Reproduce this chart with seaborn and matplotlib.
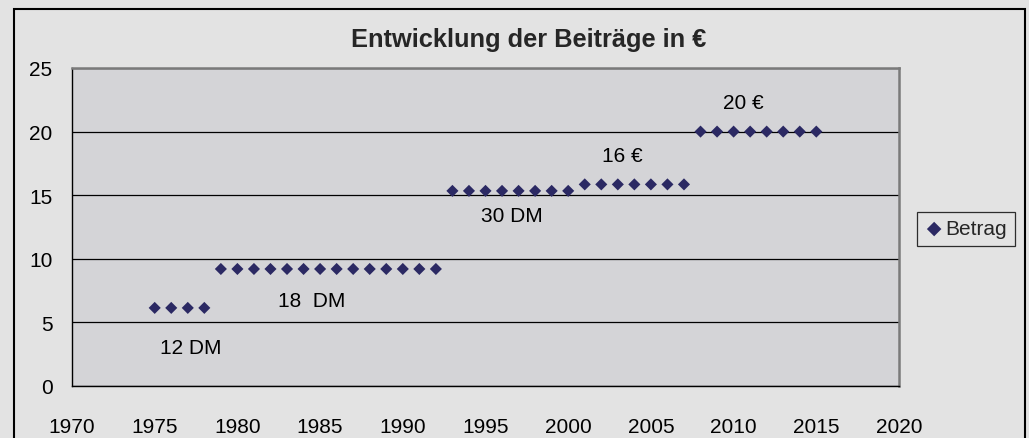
import matplotlib
matplotlib.use('Agg')
import matplotlib.pyplot as plt
import seaborn as sns
import pandas as pd
from matplotlib.patches import Rectangle

# Beitragsjahre und Beträge in Euro
years = [1975, 1976, 1977, 1978,
         1979, 1980, 1981, 1982, 1983, 1984, 1985, 1986, 1987, 1988, 1989, 1990, 1991, 1992,
         1993, 1994, 1995, 1996, 1997, 1998, 1999, 2000,
         2001, 2002, 2003, 2004, 2005, 2006, 2007,
         2008, 2009, 2010, 2011, 2012, 2013, 2014, 2015]
betrag = [6.14, 6.14, 6.14, 6.14,
          9.2, 9.2, 9.2, 9.2, 9.2, 9.2, 9.2, 9.2, 9.2, 9.2, 9.2, 9.2, 9.2, 9.2,
          15.34, 15.34, 15.34, 15.34, 15.34, 15.34, 15.34, 15.34,
          15.85, 15.85, 15.85, 15.85, 15.85, 15.85, 15.85,
          20, 20, 20, 20, 20, 20, 20, 20]

# Beschriftungen der Beitragsstufen
labels = ['12 DM', '18  DM', '30 DM', '16 €', '20 €']
label_x = [1977.15, 1984.5, 1996.6, 2003.3, 2010.6]
label_y = [3.0, 6.7, 13.4, 18.1, 22.25]

df = pd.DataFrame({'Jahr': years, 'Betrag': betrag})

sns.set_style('white')
plt.rcParams['font.family'] = ['Liberation Sans', 'DejaVu Sans']

fig = plt.figure(figsize=(10.29, 4.39), dpi=100, facecolor='#e3e3e3')
ax = fig.add_axes([72 / 1029, 52 / 439, 827 / 1029, 318 / 439])
ax.set_facecolor('#d4d4d7')

sns.scatterplot(data=df, x='Jahr', y='Betrag', marker='D', s=38,
                color='#2b2963', edgecolor='none', ax=ax, label='Betrag', legend=False)

for txt, lx, ly in zip(labels, label_x, label_y):
    ax.text(lx, ly, txt, ha='center', va='center', fontsize=15, color='black')

ax.set_xlim(1970, 2020)
ax.set_ylim(0, 25)
ax.set_xticks(range(1970, 2021, 5))
ax.set_yticks(range(0, 26, 5))
ax.set_xlabel('')
ax.set_ylabel('')
ax.yaxis.grid(True, color='black', linewidth=0.9)
ax.xaxis.grid(False)
ax.set_axisbelow(True)

for side in ['left', 'bottom']:
    ax.spines[side].set_color('black')
    ax.spines[side].set_linewidth(1.0)
for side in ['top', 'right']:
    ax.spines[side].set_color('#7a7a7a')
    ax.spines[side].set_linewidth(1.8)

ax.tick_params(axis='both', direction='out', length=6, width=1, color='black',
               labelsize=15, labelcolor='black')
ax.tick_params(axis='y', pad=8)
ax.tick_params(axis='x', pad=16.5)

# Titel
fig.text(529 / 1029, (439 - 40) / 439, 'Entwicklung der Beiträge in €',
         ha='center', va='center', fontsize=18.3, fontweight='bold')

# Legende
handles, leg_labels = ax.get_legend_handles_labels()
leg = fig.legend(handles, leg_labels, loc='center',
                 bbox_to_anchor=(966 / 1029, (439 - 230) / 439),
                 fontsize=15, frameon=True, fancybox=False, markerscale=1.2,
                 handletextpad=0.1, handlelength=0.9, borderpad=0.35,
                 borderaxespad=0)
leg.get_frame().set_edgecolor('black')
leg.get_frame().set_linewidth(0.9)
leg.get_frame().set_facecolor('none')

# Rahmen des Diagrammbereichs
frame = Rectangle((14 / 1029, -0.05), (1025 - 14) / 1029, (439 - 10) / 439 + 0.05,
                  transform=fig.transFigure, fill=False, edgecolor='black',
                  linewidth=1.5, clip_on=False)
fig.patches.append(frame)

fig.savefig('out.png', dpi=100, facecolor=fig.get_facecolor())
